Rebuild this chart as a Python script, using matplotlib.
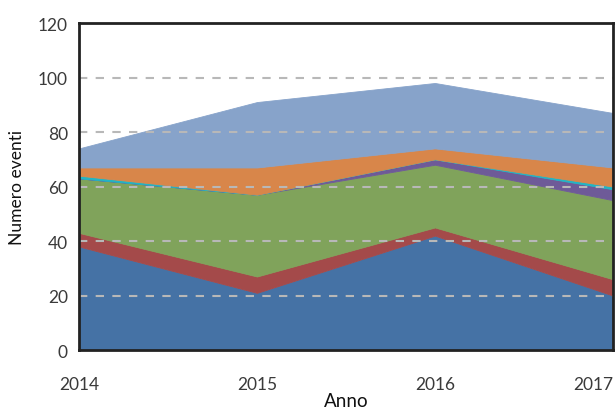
import numpy as np
import matplotlib.pyplot as plt

anni = [2014, 2015, 2016, 2017]
blu = [38, 21, 42, 20]
rosso = [5, 6, 3, 6]
verde = [20, 30, 23, 29]
viola = [0, 0, 2, 4]
ciano = [1, 0, 0, 1]
arancio = [3, 10, 4, 7]
azzurro = [7, 24, 24, 20]

colori = ['#4572A5', '#A44A4A', '#80A35B', '#6E5A98', '#22B5C4', '#D8864A', '#87A3CA']

plt.rcParams['font.family'] = ['Lato', 'DejaVu Sans']

fig = plt.figure(figsize=(6.15, 4.14), dpi=100)
ax = fig.add_axes([0.1285, 0.152, 0.868, 0.79])

serie = [blu, rosso, verde, viola, ciano, arancio, azzurro]
polys = ax.stackplot(anni, *serie, colors=colori, linewidth=0.6)
for p, c in zip(polys, colori):
    p.set_edgecolor(c)

for y in [20, 40, 60, 80, 100]:
    ax.axhline(y, color='#b8b8b8', linestyle=(0, (4, 4)), linewidth=1.5, zorder=5)

ax.set_xlim(2014, 2017)
ax.set_ylim(0, 120)
ax.set_xticks(anni)
ax.set_yticks(range(0, 121, 20))
ax.tick_params(length=0, labelsize=12.5, colors='#3a3a3a')
ax.tick_params(axis='x', pad=19)
ax.tick_params(axis='y', pad=8)
ax.get_xticklabels()[-1].set_horizontalalignment('right')

for s in ax.spines.values():
    s.set_color('#222222')
    s.set_linewidth(2)
    s.set_zorder(10)

ax.set_xlabel('Anno', fontsize=13.5, color='#111111', labelpad=0)
ax.set_ylabel('Numero eventi', fontsize=12.5, color='#111111', labelpad=9)

plt.savefig('out.png', dpi=100)
